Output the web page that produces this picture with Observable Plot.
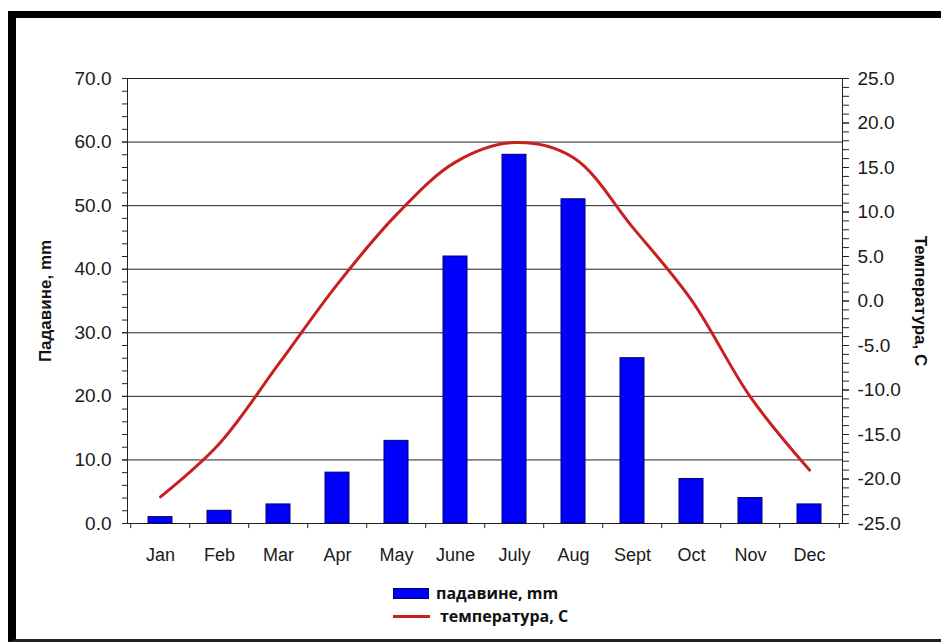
<!DOCTYPE html>
<html>
<head>
<meta charset="utf-8">
<script src="https://cdn.jsdelivr.net/npm/d3@7"></script>
<script src="https://cdn.jsdelivr.net/npm/@observablehq/plot@0.6"></script>
<style>
  html, body { margin: 0; padding: 0; background: #fff; width: 941px; height: 642px; overflow: hidden; }
  #chart { position: absolute; left: 0; top: 0; }
  #border { position: absolute; left: 8px; top: 11px; width: 925px; height: 621px;
            border-top: 7px solid #000; border-left: 8px solid #000; border-bottom: 3px solid #222;
            pointer-events: none; z-index: 2; }
  #legend { position: absolute; left: 393px; top: 582px; font-family: "Open Sans", sans-serif;
            font-weight: 700; font-size: 16px; line-height: 23px; color: #111; z-index: 3; }
  .item { display: flex; align-items: center; height: 23px; }
  .sw-bar { width: 34px; height: 9px; background: #0000ff; border: 1px solid #00006a; margin-right: 7px; }
  .sw-line { width: 37px; height: 3px; background: #c8201e; margin-right: 10px; }
</style>
</head>
<body>
<div id="chart"></div>
<div id="border"></div>
<div id="legend"></div>
<script>
const months = ["Jan","Feb","Mar","Apr","May","June","July","Aug","Sept","Oct","Nov","Dec"];
const precipitation = [1, 2, 3, 8, 13, 42, 58, 51, 26, 7, 4, 3];
const temperature = [-22, -16, -7.1, 1.9, 9.7, 15.6, 17.8, 16.1, 8.3, 0.1, -10.8, -19];
const precipTicks = [0, 10, 20, 30, 40, 50, 60, 70];
const tempTicks = [-25, -20, -15, -10, -5, 0, 5, 10, 15, 20, 25];
const precipLabel = "Падавине, mm";
const tempLabel = "Температура, C";
const legendLabels = ["падавине, mm", "температура, C"];

const pMin = 0, pMax = 70, tMin = -25, tMax = 25;
const toMm = t => (t - tMin) * (pMax - pMin) / (tMax - tMin) + pMin;
const fromMm = v => (v - pMin) * (tMax - tMin) / (pMax - pMin) + tMin;

const data = months.map((m, i) => ({month: m, p: precipitation[i], t: temperature[i]}));

const W = 941, H = 580, mL = 127, mR = 99, mT = 78, mB = 57;
const step = (W - mL - mR) / months.length;

const minorLeft = d3.range(pMin, pMax + 0.001, 2);
const minorRight = d3.range(0, 51).map(i => toMm(tMin + i));

const chart = Plot.plot({
  width: W, height: H,
  marginLeft: mL, marginRight: mR, marginTop: mT, marginBottom: mB,
  style: {background: "transparent", fontFamily: "'Liberation Sans', Arial, sans-serif", fontSize: "19px", color: "#1a1a1a", overflow: "visible"},
  x: {domain: months, paddingInner: 0.6, paddingOuter: 0.3, axis: null, label: null},
  y: {domain: [pMin, pMax], axis: null, label: null},
  marks: [
    Plot.ruleY(precipTicks, {stroke: "#222", strokeWidth: 1}),
    Plot.frame({stroke: "#222", strokeWidth: 1}),
    Plot.barY(data, {x: "month", y: "p", fill: "#0000ff", stroke: "#00006a", strokeWidth: 1}),
    Plot.line(data, {x: "month", y: d => toMm(d.t), stroke: "#c8201e", strokeWidth: 3, curve: "catmull-rom"}),
    Plot.axisY(minorLeft, {anchor: "left", tickSize: 5, tickFormat: () => "", stroke: "#222", label: null}),
    Plot.axisY(precipTicks, {anchor: "left", tickSize: 5, tickPadding: 11, tickFormat: d => d.toFixed(1), stroke: "#222", label: null}),
    Plot.axisY(minorRight, {anchor: "right", tickSize: 6, tickFormat: () => "", stroke: "#222", label: null}),
    Plot.axisY(tempTicks.map(toMm), {anchor: "right", tickSize: 6, tickPadding: 9, stroke: "#222", label: null,
      tickFormat: v => { const t = Math.round(fromMm(v) * 10) / 10; return (t === 0 ? 0 : t).toFixed(1); }}),
    Plot.axisX(months, {anchor: "bottom", tickSize: 0, tickPadding: 25, label: null, fontSize: 18}),
    Plot.ruleX(months, {x: d => d, y1: 0, y2: -0.8, dx: -step / 2, stroke: "#222"}),
    Plot.ruleX(months.slice(-1), {x: d => d, y1: 0, y2: -0.8, dx: step / 2, stroke: "#222"}),
    Plot.text([precipLabel], {text: d => d, frameAnchor: "left", textAnchor: "middle", dx: -82, rotate: -90, fontWeight: "bold", fontSize: 17, fill: "#111"}),
    Plot.text([tempLabel], {text: d => d, frameAnchor: "right", textAnchor: "middle", dx: 78, rotate: 90, fontWeight: "bold", fontSize: 17, fill: "#111"})
  ]
});
document.getElementById("chart").appendChild(chart);

const legend = document.getElementById("legend");
legend.innerHTML =
  `<div class="item"><span class="sw-bar"></span><span>${legendLabels[0]}</span></div>` +
  `<div class="item"><span class="sw-line"></span><span>${legendLabels[1]}</span></div>`;
</script>
</body>
</html>
